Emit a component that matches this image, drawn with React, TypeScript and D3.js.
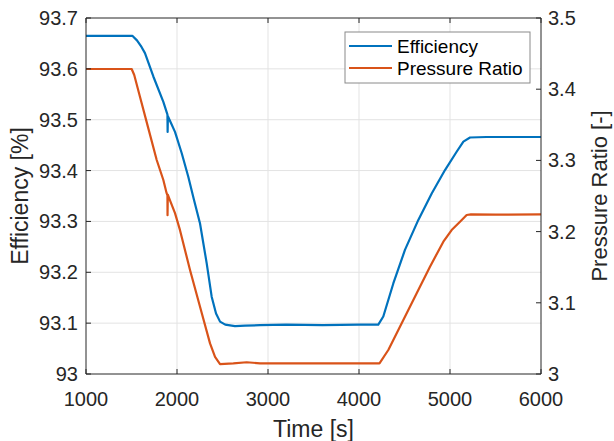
import React from "react";
import * as d3 from "d3";

const effTime = [1000, 1509, 1560, 1610, 1648, 1740, 1850, 1895, 1897, 1900, 1930, 1978, 2052, 2124, 2187, 2253, 2326, 2381, 2429, 2473, 2530, 2637, 2750, 2912, 3200, 3600, 4000, 4212, 4267, 4377, 4505, 4652, 4799, 4945, 5073, 5147, 5220, 5400, 6000];
const effValues = [93.665, 93.665, 93.656, 93.643, 93.631, 93.585, 93.535, 93.51, 93.476, 93.507, 93.495, 93.476, 93.434, 93.388, 93.342, 93.296, 93.218, 93.152, 93.119, 93.103, 93.097, 93.094, 93.095, 93.096, 93.097, 93.096, 93.097, 93.097, 93.113, 93.178, 93.244, 93.303, 93.355, 93.401, 93.437, 93.457, 93.465, 93.466, 93.466];

const prTime = [1000, 1502, 1530, 1593, 1685, 1777, 1850, 1886, 1895, 1896, 1899, 1923, 1978, 2033, 2143, 2253, 2363, 2418, 2473, 2619, 2766, 2912, 3400, 4000, 4225, 4322, 4487, 4634, 4780, 4927, 5018, 5110, 5183, 5230, 5500, 6000];
const prValues = [3.4284, 3.4284, 3.42, 3.3895, 3.345, 3.3006, 3.2725, 3.254, 3.251, 3.223, 3.252, 3.244, 3.226, 3.202, 3.146, 3.0945, 3.043, 3.024, 3.014, 3.015, 3.0165, 3.015, 3.015, 3.015, 3.015, 3.0337, 3.0758, 3.1133, 3.1507, 3.1858, 3.2022, 3.2139, 3.2233, 3.2243, 3.2238, 3.2243];

const xTicks = [1000, 2000, 3000, 4000, 5000, 6000];
const yLeftTicks = [93, 93.1, 93.2, 93.3, 93.4, 93.5, 93.6, 93.7];
const yRightTicks = [3, 3.1, 3.2, 3.3, 3.4, 3.5];
const seriesNames = ["Efficiency", "Pressure Ratio"];
const seriesColors = ["#0072BD", "#D95319"];

const W = 614, H = 441;
const L = 86, R = 541, T = 18, B = 374;
const FONT = "'Liberation Sans', Arial, Helvetica, sans-serif";
const AX = "#262626";
const GRID = "#e3e3e3";

export default function App() {
  const x = d3.scaleLinear().domain([1000, 6000]).range([L, R]);
  const yL = d3.scaleLinear().domain([93, 93.7]).range([B, T]);
  const yR = d3.scaleLinear().domain([3, 3.5]).range([B, T]);

  const effPts: [number, number][] = effTime.map((t, i) => [t, effValues[i]]);
  const prPts: [number, number][] = prTime.map((t, i) => [t, prValues[i]]);
  const effLine = d3.line<[number, number]>().x(d => x(d[0])).y(d => yL(d[1]))(effPts) || "";
  const prLine = d3.line<[number, number]>().x(d => x(d[0])).y(d => yR(d[1]))(prPts) || "";

  const tl = 5;
  const fmt = (v: number) => (Math.abs(v - Math.round(v)) < 1e-9 ? String(Math.round(v)) : v.toFixed(1));

  return (
    <svg width={W} height={H} style={{ position: "absolute", left: 0, top: 0, background: "#fff" }} fontFamily={FONT}>
      <rect x={0} y={0} width={W} height={H} fill="#fff" />
      {xTicks.slice(1, -1).map(t => (
        <line key={"gx" + t} x1={x(t)} x2={x(t)} y1={T} y2={B} stroke={GRID} strokeWidth={1} />
      ))}
      {yLeftTicks.slice(1, -1).map(t => (
        <line key={"gy" + t} x1={L} x2={R} y1={yL(t)} y2={yL(t)} stroke={GRID} strokeWidth={1} />
      ))}
      <path d={effLine} fill="none" stroke={seriesColors[0]} strokeWidth={2.2} strokeLinejoin="round" />
      <path d={prLine} fill="none" stroke={seriesColors[1]} strokeWidth={2.2} strokeLinejoin="round" />
      <line x1={L} x2={R} y1={T} y2={T} stroke={AX} strokeWidth={1} />
      <line x1={L} x2={R} y1={B} y2={B} stroke={AX} strokeWidth={1} />
      <line x1={L} x2={L} y1={T} y2={B} stroke={AX} strokeWidth={1} />
      <line x1={R} x2={R} y1={T} y2={B} stroke={AX} strokeWidth={1} />
      {xTicks.map(t => (
        <g key={"xt" + t}>
          <line x1={x(t)} x2={x(t)} y1={B} y2={B - tl} stroke={AX} />
          <line x1={x(t)} x2={x(t)} y1={T} y2={T + tl} stroke={AX} />
          <text x={x(t)} y={B + 32} fontSize={20} fill={AX} textAnchor="middle">{fmt(t)}</text>
        </g>
      ))}
      {yLeftTicks.map(t => (
        <g key={"yl" + t}>
          <line x1={L} x2={L + tl} y1={yL(t)} y2={yL(t)} stroke={AX} />
          <text x={L - 8} y={yL(t) + 7} fontSize={20} fill={AX} textAnchor="end">{fmt(t)}</text>
        </g>
      ))}
      {yRightTicks.map(t => (
        <g key={"yr" + t}>
          <line x1={R} x2={R - tl} y1={yR(t)} y2={yR(t)} stroke={AX} />
          <text x={R + 7} y={yR(t) + 7} fontSize={20} fill={AX} textAnchor="start">{fmt(t)}</text>
        </g>
      ))}
      <text x={(L + R) / 2} y={437} fontSize={23} fill={AX} textAnchor="middle">Time [s]</text>
      <text transform={`translate(28,${(T + B) / 2}) rotate(-90)`} fontSize={23} fill={AX} textAnchor="middle">Efficiency [%]</text>
      <text transform={`translate(607,${(T + B) / 2}) rotate(-90)`} fontSize={22} fill={AX} textAnchor="middle">Pressure Ratio [-]</text>
      <rect x={345} y={32} width={185} height={51} fill="#fff" stroke="#8a8a8a" strokeWidth={1} />
      {seriesNames.map((n, i) => (
        <g key={n}>
          <line x1={349} x2={392} y1={46 + i * 22} y2={46 + i * 22} stroke={seriesColors[i]} strokeWidth={2.2} />
          <text x={397} y={46 + i * 22 + 7} fontSize={19} fill="#000">{n}</text>
        </g>
      ))}
    </svg>
  );
}
